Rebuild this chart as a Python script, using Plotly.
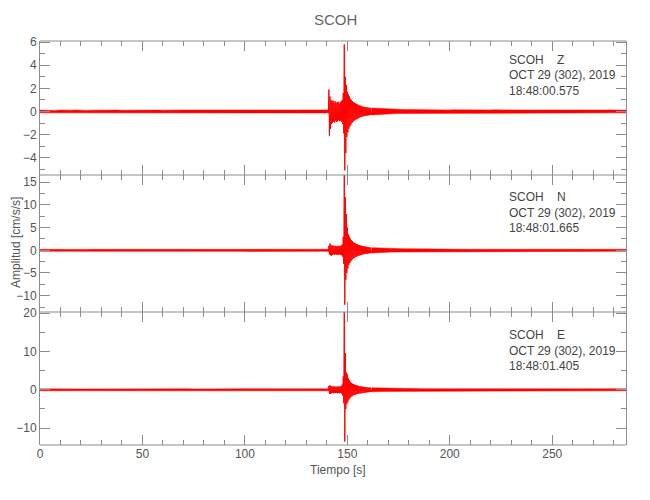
import numpy as np
import plotly.graph_objects as go

# ---------------- data ----------------
STATION = "SCOH"
COMPONENTS = ["Z", "N", "E"]
START_TIMES = ["18:48:00.575", "18:48:01.665", "18:48:01.405"]
DATE_LABEL = "OCT 29 (302), 2019"

# time bins (s): quiet pre-event, event window, quiet post-event
T_PRE = np.arange(0, 140, 2.5)
T_EVT = np.arange(140, 162, 0.5)
T_POST = np.arange(162, 287, 2.5)
T_END = 286.5

# envelope amplitudes (cm/s/s) of the quiet parts (symmetric)
Z_PRE = [0.12,0.10,0.11,0.09,0.12,0.10,0.11,0.13,0.10,0.09,
         0.11,0.12,0.10,0.11,0.13,0.12,0.10,0.11,0.12,0.13,
         0.11,0.12,0.14,0.12,0.11,0.13,0.12,0.14,0.13,0.12,
         0.11,0.13,0.12,0.11,0.10,0.12,0.13,0.12,0.11,0.12,
         0.13,0.14,0.12,0.13,0.12,0.11,0.13,0.12,0.14,0.13,
         0.12,0.13,0.12,0.11,0.12,0.13]
Z_POST = [0.30,0.27,0.24,0.22,0.20,0.18,0.17,0.16,0.15,0.14,
          0.14,0.13,0.14,0.13,0.12,0.13,0.14,0.13,0.12,0.13,
          0.14,0.13,0.12,0.13,0.14,0.13,0.12,0.13,0.12,0.13,
          0.14,0.13,0.12,0.13,0.12,0.13,0.12,0.13,0.12,0.12,
          0.13,0.12,0.13,0.12,0.13,0.12,0.12,0.13,0.12,0.12]
N_PRE = [0.22,0.20,0.21,0.19,0.22,0.20,0.21,0.23,0.20,0.19,
         0.21,0.22,0.20,0.21,0.23,0.22,0.20,0.21,0.22,0.23,
         0.21,0.22,0.24,0.22,0.21,0.23,0.22,0.24,0.23,0.22,
         0.21,0.23,0.22,0.21,0.20,0.22,0.23,0.22,0.21,0.22,
         0.23,0.24,0.22,0.23,0.22,0.21,0.23,0.22,0.24,0.23,
         0.22,0.23,0.22,0.21,0.22,0.23]
N_POST = [0.58,0.52,0.47,0.43,0.40,0.37,0.34,0.32,0.30,0.28,
          0.27,0.26,0.25,0.25,0.24,0.24,0.23,0.24,0.23,0.22,
          0.23,0.24,0.23,0.22,0.23,0.22,0.23,0.22,0.22,0.23,
          0.22,0.23,0.22,0.22,0.23,0.22,0.21,0.22,0.23,0.22,
          0.22,0.21,0.22,0.23,0.22,0.22,0.21,0.22,0.22,0.22]
E_PRE = [0.25,0.23,0.24,0.22,0.25,0.23,0.24,0.26,0.23,0.22,
         0.24,0.25,0.23,0.24,0.26,0.25,0.23,0.24,0.25,0.26,
         0.24,0.25,0.27,0.25,0.24,0.26,0.25,0.27,0.26,0.25,
         0.24,0.26,0.25,0.24,0.23,0.25,0.26,0.25,0.24,0.25,
         0.26,0.27,0.25,0.26,0.25,0.24,0.26,0.25,0.27,0.26,
         0.25,0.26,0.25,0.24,0.25,0.26]
E_POST = [0.52,0.48,0.44,0.41,0.38,0.35,0.33,0.31,0.30,0.29,
          0.28,0.27,0.27,0.26,0.26,0.25,0.26,0.25,0.25,0.26,
          0.25,0.26,0.25,0.25,0.26,0.25,0.24,0.25,0.26,0.25,
          0.25,0.24,0.25,0.26,0.25,0.25,0.24,0.25,0.25,0.26,
          0.25,0.24,0.25,0.25,0.24,0.25,0.25,0.24,0.25,0.25]

# event window: positive / negative peaks per 0.5 s bin
Z_HI = [0.12,0.15,1.9,1.3,1.0,0.9,0.95,0.8,0.9,0.75,
        0.8,0.85,0.7,0.8,0.9,1.0,1.6,5.8,3.0,2.3,
        1.7,1.5,1.3,1.1,1.0,0.9,0.8,0.75,0.7,0.65,
        0.6,0.55,0.5,0.5,0.45,0.42,0.4,0.38,0.36,0.35,
        0.34,0.33,0.32,0.31]
Z_LO = [-0.12,-0.15,-2.1,-1.5,-1.1,-1.0,-0.9,-0.95,-0.8,-0.9,
        -0.85,-0.75,-0.85,-0.8,-0.9,-1.1,-1.9,-5.1,-3.6,-2.2,
        -1.8,-1.5,-1.3,-1.15,-1.0,-0.9,-0.8,-0.75,-0.7,-0.65,
        -0.6,-0.55,-0.5,-0.48,-0.45,-0.42,-0.4,-0.38,-0.36,-0.35,
        -0.34,-0.32,-0.31,-0.3]
N_HI = [0.22,0.3,1.0,1.5,1.2,1.0,1.1,0.9,1.0,0.9,
        0.95,0.9,1.0,0.9,1.1,1.3,3.0,17.5,11.7,8.0,
        5.0,3.5,3.0,2.6,2.2,2.0,1.8,1.6,1.5,1.4,
        1.3,1.2,1.1,1.05,1.0,0.95,0.9,0.85,0.8,0.75,
        0.7,0.68,0.65,0.6]
N_LO = [-0.22,-0.3,-0.9,-1.1,-1.2,-1.0,-0.9,-1.0,-0.9,-1.0,
        -0.9,-1.0,-0.9,-1.0,-1.1,-1.4,-3.0,-12.0,-6.5,-5.0,
        -4.0,-3.2,-2.8,-2.4,-2.1,-1.9,-1.7,-1.55,-1.45,-1.35,
        -1.25,-1.15,-1.1,-1.0,-0.95,-0.9,-0.85,-0.8,-0.75,-0.72,
        -0.7,-0.66,-0.62,-0.6]
E_HI = [0.25,0.3,1.0,1.2,1.0,0.9,0.8,0.9,0.8,0.85,
        0.8,0.9,0.8,0.9,1.0,1.4,3.5,23.0,9.6,4.5,
        4.0,3.0,2.5,2.1,1.8,1.6,1.5,1.35,1.25,1.15,
        1.1,1.0,0.95,0.9,0.85,0.8,0.75,0.72,0.7,0.66,
        0.62,0.6,0.58,0.55]
E_LO = [-0.25,-0.3,-1.0,-1.1,-0.9,-0.8,-0.9,-0.8,-0.85,-0.8,
        -0.9,-0.8,-0.9,-0.85,-1.0,-1.5,-3.5,-13.5,-5.0,-3.7,
        -3.2,-2.6,-2.2,-1.9,-1.7,-1.5,-1.4,-1.3,-1.2,-1.1,
        -1.05,-1.0,-0.95,-0.9,-0.85,-0.8,-0.75,-0.72,-0.7,-0.66,
        -0.62,-0.6,-0.58,-0.55]

Y_RANGES = [[-5.5, 6.1], [-13.6, 16.6], [-14.4, 20.3]]
Y_DTICK = [2, 5, 10]
Y_MINOR = [1, 2.5, 5]
X_RANGE = [0, 286]

# ---------------- build ----------------
def zigzag(times, step, hi, lo):
    xs, ys = [], []
    for t, h, l in zip(times, hi, lo):
        xs += [float(t), float(t) + step / 2]
        ys += [h, l]
    return xs, ys


def band(times, amp, t_end):
    # closed envelope polygon of a quiet stretch
    ts = [float(t) for t in times] + [t_end]
    a = list(amp) + [amp[-1]]
    xs = ts + ts[::-1]
    ys = a + [-v for v in a[::-1]]
    return xs, ys


series = [
    (Z_PRE, Z_HI, Z_LO, Z_POST),
    (N_PRE, N_HI, N_LO, N_POST),
    (E_PRE, E_HI, E_LO, E_POST),
]

FONT = "Liberation Sans, Arial, sans-serif"
TXT = "#555555"
AX = "#8c8c8c"
RED = "#ff0000"

# page body has an 8 px offset; plot area on screen x 40..626, y 41..445 (404 px)
H = 404.0
domains = [[270 / H, 1.0], [133 / H, 270 / H], [0.0, 133 / H]]

fig = go.Figure()
for i, (pre, hi, lo, post) in enumerate(series):
    sfx = "" if i == 0 else str(i + 1)
    bx, by = band(T_PRE, pre, float(T_EVT[0]))
    fig.add_trace(go.Scatter(x=bx, y=by, mode="lines", fill="toself",
                             fillcolor=RED, line=dict(color=RED, width=0.5),
                             xaxis="x" + sfx, yaxis="y" + sfx,
                             showlegend=False, hoverinfo="skip"))
    bx, by = band(T_POST, post, T_END)
    fig.add_trace(go.Scatter(x=bx, y=by, mode="lines", fill="toself",
                             fillcolor=RED, line=dict(color=RED, width=0.5),
                             xaxis="x" + sfx, yaxis="y" + sfx,
                             showlegend=False, hoverinfo="skip"))
    zx, zy = zigzag(T_EVT, 0.5, hi, lo)
    zx = [float(T_PRE[-1]) + 2.5] + zx + [float(T_POST[0])]
    zy = [0] + zy + [0]
    fig.add_trace(go.Scatter(x=zx, y=zy, mode="lines",
                             line=dict(color=RED, width=1),
                             xaxis="x" + sfx, yaxis="y" + sfx,
                             showlegend=False, hoverinfo="skip"))

layout = dict(
    width=650, height=500,
    paper_bgcolor="white", plot_bgcolor="white",
    margin=dict(l=32, r=32, t=33, b=63, autoexpand=False),
    font=dict(family=FONT, size=12, color=TXT),
    showlegend=False,
)
for i in range(3):
    sfx = "" if i == 0 else str(i + 1)
    layout["xaxis" + sfx] = dict(
        range=X_RANGE, domain=[0, 1], anchor="y" + sfx,
        matches=None if i == 0 else "x", automargin=False,
        showgrid=False, zeroline=False,
        showline=False, linecolor=AX, linewidth=1, mirror="ticks",
        ticks="inside", ticklen=10, tickcolor=AX, tickwidth=1,
        dtick=50, tick0=0,
        minor=dict(dtick=10, ticks="inside", ticklen=5, tickcolor=AX, showgrid=False),
        showticklabels=(i == 2),
        tickfont=dict(family=FONT, size=12, color=TXT),
    )
    layout["yaxis" + sfx] = dict(
        range=Y_RANGES[i], domain=domains[i], anchor="x" + sfx, automargin=False,
        showgrid=False, zeroline=False,
        showline=True, linecolor=AX, linewidth=1, mirror="ticks",
        ticks="inside", ticklen=10, tickcolor=AX, tickwidth=1,
        dtick=Y_DTICK[i], tick0=0,
        minor=dict(dtick=Y_MINOR[i], ticks="inside", ticklen=5, tickcolor=AX, showgrid=False),
        tickfont=dict(family=FONT, size=12, color=TXT),
    )
fig.update_layout(**layout)

# single horizontal frame lines: top, panel boundaries, bottom
for yfrac in [1.0, 270 / H, 133 / H, 0.0]:
    fig.add_shape(type="line", xref="paper", yref="paper", x0=0, x1=1,
                  y0=yfrac, y1=yfrac, line=dict(color=AX, width=1), layer="above")

annots = []
annots.append(dict(text=STATION, x=(335 - 40) / 586, y=(445 - 20) / 404,
                   xref="paper", yref="paper", showarrow=False,
                   font=dict(family=FONT, size=15, color="#666666"),
                   xanchor="center", yanchor="middle"))
annots.append(dict(text="Amplitud [cm/s/s]", x=(16 - 40) / 586, y=(445 - 243) / 404,
                   xref="paper", yref="paper", showarrow=False, textangle=-90,
                   font=dict(family=FONT, size=12, color=TXT),
                   xanchor="center", yanchor="middle"))
annots.append(dict(text="Tiempo [s]", x=(338 - 40) / 586, y=(445 - 470) / 404,
                   xref="paper", yref="paper", showarrow=False,
                   font=dict(family=FONT, size=12, color=TXT),
                   xanchor="center", yanchor="middle"))
line_tops = [60, 197, 335]
for i, comp in enumerate(COMPONENTS):
    lines = [STATION + "\u00a0\u00a0\u00a0\u00a0" + comp, DATE_LABEL, START_TIMES[i]]
    for j, txt in enumerate(lines):
        ypx = line_tops[i] + 15.5 * j
        annots.append(dict(text=txt, x=(507 - 40) / 586, y=(445 - ypx) / 404,
                           xref="paper", yref="paper", showarrow=False,
                           font=dict(family=FONT, size=12, color="#444444"),
                           xanchor="left", yanchor="middle"))
fig.update_layout(annotations=annots)

fig.write_html("out.html")
